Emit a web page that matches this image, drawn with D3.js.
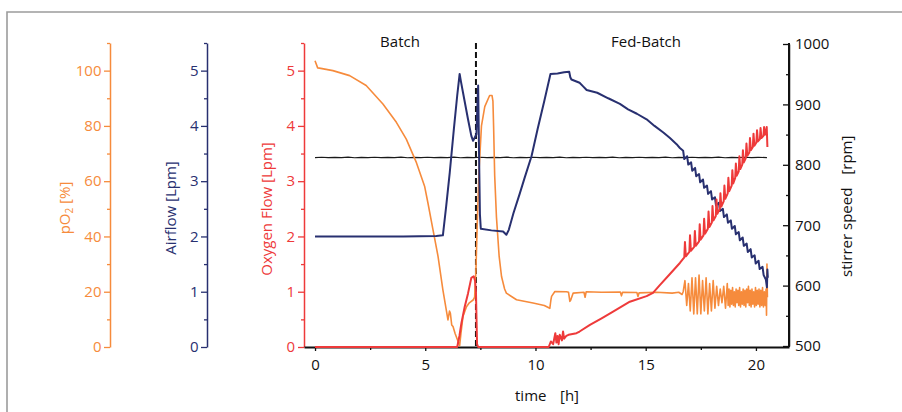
<!DOCTYPE html>
<html>
<head>
<meta charset="utf-8">
<script src="https://cdn.jsdelivr.net/npm/d3@7"></script>
<style>
  body { margin: 0; background: #fff; }
  svg { display: block; }
</style>
</head>
<body>
<script>

// ---- data ----
const timeTicks = [0, 5, 10, 15, 20];
const timeMinor = [2.5, 7.5, 12.5, 17.5];
const po2Ticks = [0, 20, 40, 60, 80, 100];
const po2Minor = [10, 30, 50, 70, 90, 110];
const flowTicks = [0, 1, 2, 3, 4, 5];
const flowMinor = [0.5, 1.5, 2.5, 3.5, 4.5, 5.5];
const rpmTicks = [500, 600, 700, 800, 900, 1000];
const rpmMinor = [550, 650, 750, 850, 950];
const phaseSwitch = 7.3;
const phaseNames = ['Batch', 'Fed-Batch'];

// pO2 [%]
const po2 = [[0,103.6],[0.12,101],[0.2,100.9],[0.81,100],[1.57,98.2],[2.32,94.6],[3.08,87.9],
  [3.69,81.3],[4.14,75.2],[4.6,66.7],[4.97,58.2],[5.12,52.2],[5.35,42.5],[5.58,32.8],[5.8,20.7],
  [6.03,9.8],[6.1,13],[6.14,12.2],[6.2,8],[6.26,7.4],[6.35,5],[6.49,2],[6.56,0.5],[6.62,5],
  [6.71,11],[6.87,14.6],[7.0,16],[7.17,17],[7.24,18],[7.3,28],[7.36,45],[7.44,64],[7.55,80],
  [7.7,87],[7.92,91],[8.03,91],[8.07,89],[8.1,80],[8.15,62],[8.23,47],[8.35,33],[8.46,25.5],
  [8.6,21],[8.68,19.5],[9.14,17.1],[9.89,15.9],[10.4,15],[10.65,14],[10.7,17],[10.73,18.3],
  [10.88,20.1],[11.41,20],[11.5,19.8],[11.56,16.5],[11.6,17],[11.71,19.5],[12.2,19.8],[12.25,18],
  [12.3,20],[13.0,19.8],[13.85,19.9],[13.9,18.5],[13.95,19.8],[14.6,19.7],[14.65,18.3],[14.7,19.6],
  [15.5,19.8],[16.2,19.5],[16.5,19.8],[16.65,19],[16.7,20],[16.78,24],[16.86,15],[16.94,23],
  [17.02,13],[17.1,25],[17.18,12],[17.26,25],[17.34,12],[17.42,26],[17.5,12],[17.58,24],[17.66,13],
  [17.74,25],[17.82,12],[17.9,23],[17.98,13],[18.06,24],[18.14,14],[18.22,22],[18.3,15],[18.38,21],
  [18.46,16],[18.54,22],[18.62,14],[18.7,23],[18.74,15],[18.78,21],[18.82,14.5],[18.86,20.5],
  [18.9,15.5],[18.94,21.5],[18.98,15],[19.02,20],[19.06,14.5],[19.1,21],[19.14,16],[19.18,20.5],
  [19.22,15],[19.26,21.5],[19.3,14.5],[19.34,20],[19.38,15.5],[19.42,21],[19.46,15],[19.5,20.5],
  [19.54,14.5],[19.58,21],[19.62,16],[19.66,22],[19.7,15],[19.74,20.5],[19.78,14.5],[19.82,21],
  [19.86,15.5],[19.9,20],[19.94,14.5],[19.98,21.5],[20.02,15],[20.06,20.5],[20.1,15.5],[20.14,21],
  [20.18,14.5],[20.22,20.5],[20.26,15],[20.3,21.5],[20.34,14.5],[20.38,20],[20.42,15],[20.46,21],
  [20.48,11.5],[20.5,30],[20.52,18]];

// airflow [Lpm]
const airflow = [[0,2.0],[2,2.0],[4,2.0],[5.5,2.01],[5.8,2.02],[5.95,2.55],[6.11,3.15],[6.3,3.95],
  [6.45,4.55],[6.56,4.94],[6.62,4.8],[6.71,4.61],[6.94,4.12],[7.09,3.82],[7.17,3.73],[7.32,3.85],
  [7.37,4.4],[7.4,4.73],[7.44,3.5],[7.48,2.4],[7.52,2.14],[8.0,2.11],[8.53,2.09],[8.68,2.03],
  [8.79,2.12],[9.0,2.42],[9.29,2.78],[9.5,3.05],[9.82,3.45],[10.1,3.95],[10.4,4.45],[10.68,4.94],
  [11.0,4.95],[11.3,4.97],[11.53,4.98],[11.58,4.88],[11.63,4.84],[12.0,4.78],[12.15,4.72],
  [12.32,4.65],[12.8,4.6],[13.3,4.5],[13.83,4.4],[14.2,4.3],[14.6,4.22],[15.04,4.12],[15.4,4.0],
  [15.8,3.88],[16.1,3.78],[16.4,3.67],[16.55,3.6],[16.7,3.55],[16.75,3.4],[16.88,3.45],[16.93,3.3],
  [17.06,3.34],[17.11,3.19],[17.24,3.24],[17.29,3.09],[17.42,3.13],[17.47,2.98],[17.6,3.03],
  [17.65,2.88],[17.78,2.92],[17.83,2.77],[17.96,2.82],[18.01,2.67],[18.14,2.71],[18.19,2.56],
  [18.32,2.61],[18.37,2.46],[18.5,2.5],[18.55,2.35],[18.68,2.4],[18.73,2.25],[18.86,2.29],
  [18.91,2.14],[19.04,2.19],[19.09,2.04],[19.22,2.08],[19.27,1.93],[19.4,1.98],[19.45,1.83],
  [19.58,1.87],[19.63,1.72],[19.76,1.77],[19.81,1.62],[19.94,1.66],[19.99,1.51],[20.12,1.56],
  [20.17,1.41],[20.3,1.45],[20.35,1.3],[20.45,1.22],[20.5,1.08],[20.52,1.4],[20.54,1.25]];

// oxygen flow [Lpm]
const oxygen = [[0,0],[6.45,0],[6.55,0.2],[6.64,0.43],[6.79,0.73],[6.94,0.97],[7.09,1.25],
  [7.2,1.28],[7.26,1.2],[7.3,1.0],[7.35,0.05],[7.4,0],[10.6,0],[10.7,0.1],[10.8,0.05],[10.9,0.25],
  [10.95,0.08],[11.0,0.2],[11.05,0.05],[11.1,0.22],[11.2,0.12],[11.25,0.28],[11.3,0.15],[11.4,0.2],
  [11.5,0.22],[11.86,0.25],[12.0,0.28],[12.47,0.4],[13.0,0.52],[13.52,0.64],[14.28,0.82],
  [15.04,0.92],[15.33,0.98],[15.64,1.12],[16.1,1.32],[16.55,1.52],[16.75,1.62],[16.78,1.9],
  [16.82,1.64],[16.98,1.72],[17.01,2.02],[17.05,1.74],[17.2,1.81],[17.23,2.1],[17.27,1.83],
  [17.42,1.91],[17.45,2.22],[17.49,1.94],[17.62,2.02],[17.65,2.32],[17.69,2.05],[17.82,2.14],
  [17.85,2.45],[17.89,2.17],[18.0,2.25],[18.03,2.55],[18.07,2.29],[18.18,2.37],[18.21,2.67],
  [18.25,2.41],[18.36,2.5],[18.39,2.78],[18.43,2.54],[18.54,2.64],[18.57,2.92],[18.61,2.68],
  [18.72,2.78],[18.75,3.06],[18.79,2.82],[18.9,2.92],[18.93,3.2],[18.97,2.96],[19.06,3.06],
  [19.09,3.32],[19.13,3.1],[19.22,3.18],[19.25,3.45],[19.29,3.22],[19.38,3.3],[19.41,3.56],
  [19.45,3.34],[19.54,3.42],[19.57,3.68],[19.61,3.46],[19.7,3.52],[19.73,3.78],[19.77,3.56],
  [19.86,3.62],[19.89,3.86],[19.93,3.64],[20.02,3.7],[20.05,3.92],[20.09,3.72],[20.18,3.76],
  [20.21,3.96],[20.25,3.78],[20.34,3.82],[20.37,3.98],[20.41,3.84],[20.46,3.9],[20.49,3.98],
  [20.52,3.62]];

// stirrer speed [rpm]
const stirrer = [[0,812],[0.3,812.5],[0.6,811.8],[0.9,812.3],[1.2,812],[1.5,812.6],[1.8,811.7],
  [2.1,812.2],[2.4,812],[2.7,812.5],[3.0,811.8],[3.3,812.3],[3.6,812],[3.9,812.6],[4.2,811.7],
  [4.5,812.2],[4.8,812],[5.1,812.5],[5.4,811.8],[5.7,812.3],[6.0,812],[6.3,812.6],[6.6,811.7],
  [6.9,812.2],[7.2,812],[7.5,812.5],[7.8,811.8],[8.1,812.3],[8.4,812],[8.7,812.6],[9.0,811.7],
  [9.3,812.2],[9.6,812],[9.9,812.5],[10.2,811.8],[10.5,812.3],[10.8,812],[11.1,812.6],[11.4,811.7],
  [11.7,812.2],[12.0,812],[12.3,812.5],[12.6,811.8],[12.9,812.3],[13.2,812],[13.5,812.6],
  [13.8,811.7],[14.1,812.2],[14.4,812],[14.7,812.5],[15.0,811.8],[15.3,812.3],[15.6,812],
  [15.9,812.6],[16.2,811.7],[16.5,812.2],[16.8,812],[17.1,812.5],[17.4,811.8],[17.7,812.3],
  [18.0,812],[18.3,812.6],[18.6,811.7],[18.9,812.2],[19.2,812],[19.5,812.5],[19.8,811.8],
  [20.1,812.3],[20.5,812]];

// ---- layout ----
const WIDTH = 902;
const HEIGHT = 412;
const PLOT = {left: 304, right: 789, top: 43, bottom: 347};
const ORANGE = '#f68b3c';
const NAVY = '#283070';
const RED = '#ee3a3a';
const FONT = '"Open Sans", "Noto Sans", sans-serif';

const svg = d3.select('body')
              .append('svg')
              .attr('width', WIDTH)
              .attr('height', HEIGHT)
              .style('font-family', FONT);

// grey frame on the top and left
svg.append('path')
   .attr('d', 'M7,412V12H902')
   .attr('fill', 'none')
   .attr('stroke', '#9c9c9c')
   .attr('stroke-width', 1.6);

// scales
const xScale = d3.scaleLinear().domain([-0.5, 21.5]).range([PLOT.left, PLOT.right]);
const yPo2 = d3.scaleLinear().domain([0, 110]).range([PLOT.bottom, PLOT.top]);
const yFlow = d3.scaleLinear().domain([0, 5.5]).range([PLOT.bottom, PLOT.top]);
const yRpm = d3.scaleLinear().domain([500, 1000]).range([PLOT.bottom - 1, PLOT.top + 1]);

// draws a major + minor axis pair in one colour
function drawAxis(maker, scale, major, minor, pos, color, size, pad, isX) {
  let shift = isX ? 'translate(0,' + pos + ')' : 'translate(' + pos + ',0)';

  // minor ticks, no labels
  let g = svg.append('g').attr('transform', shift);
  g.call(maker(scale).tickValues(minor).tickSize(size > 0 ? 3 : -3).tickSizeOuter(0).tickFormat(''));
  g.select('.domain').remove();
  g.selectAll('line').attr('stroke', color).attr('stroke-width', 1.3);

  // major ticks with labels
  let m = svg.append('g').attr('transform', shift);
  m.call(maker(scale).tickValues(major).tickSize(size).tickSizeOuter(0)
                     .tickPadding(pad).tickFormat(d3.format('d')));
  m.attr('font-size', 15).attr('font-family', FONT);
  m.select('.domain').attr('stroke', color).attr('stroke-width', isX ? 2 : 1.5);
  m.selectAll('.tick line').attr('stroke', color).attr('stroke-width', 1.3);
  m.selectAll('text').attr('fill', color);
  return m;
}

drawAxis(d3.axisLeft, yPo2, po2Ticks, po2Minor, 110, ORANGE, 6, 2.5);
drawAxis(d3.axisLeft, yFlow, flowTicks, flowMinor, 207, NAVY, 6, 2.5);
drawAxis(d3.axisLeft, yFlow, flowTicks, flowMinor, PLOT.left, RED, 6, 3);
drawAxis(d3.axisRight, yRpm, rpmTicks, rpmMinor, PLOT.right, '#111', -6, 6);
drawAxis(d3.axisBottom, xScale, timeTicks, timeMinor, PLOT.bottom, '#111', 4, 8, true);

// right axis spans the whole plot height
svg.append('line')
   .attr('x1', PLOT.right).attr('x2', PLOT.right)
   .attr('y1', PLOT.top).attr('y2', PLOT.bottom)
   .attr('stroke', '#111').attr('stroke-width', 2);

// dashed line between batch and fed-batch
svg.append('line')
   .attr('x1', xScale(phaseSwitch)).attr('x2', xScale(phaseSwitch))
   .attr('y1', PLOT.top).attr('y2', PLOT.bottom)
   .attr('stroke', '#111')
   .attr('stroke-width', 2)
   .attr('stroke-dasharray', '6,3');

// the four traces
function trace(data, scale, color, width) {
  svg.append('path')
     .datum(data)
     .attr('fill', 'none')
     .attr('stroke', color)
     .attr('stroke-width', width)
     .attr('stroke-linejoin', 'round')
     .attr('d', d3.line().x(d => xScale(d[0])).y(d => scale(d[1])));
}

trace(stirrer, yRpm, '#1a1a1a', 1.2);
trace(po2, yPo2, ORANGE, 1.6);
trace(airflow, yFlow, NAVY, 2);
trace(oxygen, yFlow, RED, 2);

// phase titles
svg.selectAll('.phase')
   .data(phaseNames)
   .enter()
   .append('text')
   .attr('class', 'phase')
   .attr('x', (d, i) => i === 0 ? 400 : 646)
   .attr('y', 47)
   .attr('text-anchor', 'middle')
   .attr('font-size', 15)
   .attr('fill', '#111')
   .text(d => d);

// axis titles
let po2Label = svg.append('text')
   .attr('transform', 'translate(69.5,208) rotate(-90)')
   .attr('text-anchor', 'middle')
   .attr('font-size', 15)
   .attr('fill', ORANGE);
po2Label.append('tspan').text('pO');
po2Label.append('tspan').attr('dy', 3).attr('font-size', 10).text('2');
po2Label.append('tspan').attr('dy', -3).text(' [%]');

svg.append('text')
   .attr('transform', 'translate(176,208) rotate(-90)')
   .attr('text-anchor', 'middle')
   .attr('font-size', 15)
   .attr('fill', NAVY)
   .text('Airflow [Lpm]');

svg.append('text')
   .attr('transform', 'translate(272,209) rotate(-90)')
   .attr('text-anchor', 'middle')
   .attr('font-size', 15)
   .attr('fill', RED)
   .text('Oxygen Flow [Lpm]');

let rpmLabel = svg.append('text')
   .attr('transform', 'translate(852,277) rotate(-90)')
   .attr('font-size', 15)
   .attr('fill', '#111');
rpmLabel.append('tspan').text('stirrer speed');
rpmLabel.append('tspan').attr('dx', 13).text('[rpm]');

svg.append('text')
   .attr('x', 515).attr('y', 401)
   .attr('font-size', 15)
   .attr('fill', '#111')
   .text('time');
svg.append('text')
   .attr('x', 560).attr('y', 401)
   .attr('font-size', 15)
   .attr('fill', '#111')
   .text('[h]');

</script>
</body>
</html>
